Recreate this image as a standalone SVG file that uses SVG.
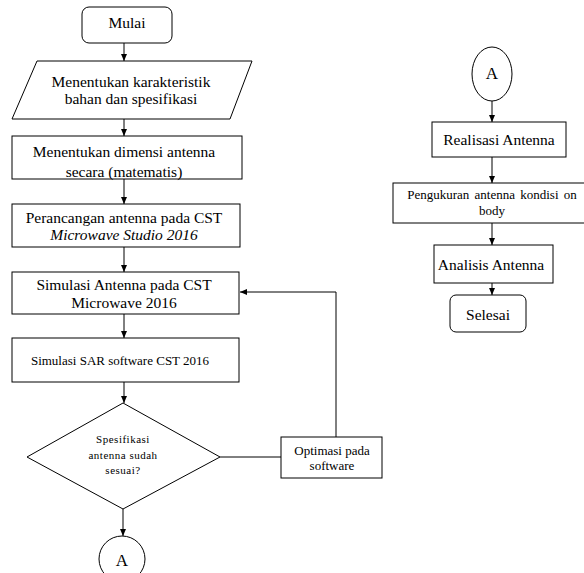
<svg xmlns="http://www.w3.org/2000/svg" width="584" height="573" viewBox="0 0 584 573">
<defs>
<marker id="ah" markerWidth="8" markerHeight="8" refX="7" refY="4" orient="auto" markerUnits="userSpaceOnUse">
<path d="M0,1 L7,4 L0,7 z" fill="#000"/>
</marker>
<style>
.s{fill:#fff;stroke:#000;stroke-width:1}
.c{fill:none;stroke:#000;stroke-width:1}
.t{font-family:"Liberation Serif","Times New Roman",serif;font-size:15.5px;fill:#000;text-anchor:middle}
.sm{font-size:13px}
.xs{font-size:11px;letter-spacing:0.5px}
.it{font-style:italic}
</style>
</defs>
<rect width="584" height="573" fill="#fff"/>
<g id="connectors">
<line class="c" x1="124" y1="43" x2="124" y2="61" marker-end="url(#ah)"/>
<line class="c" x1="124" y1="119" x2="124" y2="136" marker-end="url(#ah)"/>
<line class="c" x1="124" y1="179" x2="124" y2="204" marker-end="url(#ah)"/>
<line class="c" x1="124" y1="247" x2="124" y2="272" marker-end="url(#ah)"/>
<line class="c" x1="124" y1="314" x2="124" y2="338" marker-end="url(#ah)"/>
<line class="c" x1="124" y1="382" x2="124" y2="403" marker-end="url(#ah)"/>
<line class="c" x1="123" y1="509" x2="123" y2="536" marker-end="url(#ah)"/>
<line class="c" x1="220" y1="457" x2="281" y2="457"/>
<polyline class="c" points="336,437 336,292 240,292" marker-end="url(#ah)"/>
<line class="c" x1="492" y1="101" x2="492" y2="122" marker-end="url(#ah)"/>
<line class="c" x1="492" y1="157" x2="492" y2="183" marker-end="url(#ah)"/>
<line class="c" x1="492" y1="223" x2="492" y2="245" marker-end="url(#ah)"/>
<line class="c" x1="492" y1="283" x2="492" y2="295" marker-end="url(#ah)"/>
</g>
<g id="mulai">
<rect class="s" x="82" y="7" width="90" height="36" rx="7"/>
<text class="t" x="127" y="28">Mulai</text>
</g>
<g id="karakteristik">
<polygon class="s" points="37,61 252,61 230,119 12,119"/>
<text class="t" x="131" y="87">Menentukan karakteristik</text>
<text class="t" x="131" y="104">bahan dan spesifikasi</text>
</g>
<g id="dimensi">
<rect class="s" x="12" y="136" width="230" height="43"/>
<text class="t" x="124" y="157">Menentukan dimensi antenna</text>
<text class="t" x="124" y="177">secara (matematis)</text>
</g>
<g id="perancangan">
<rect class="s" x="12" y="204" width="228" height="43"/>
<text class="t" x="124" y="223">Perancangan antenna pada CST</text>
<text class="t it" x="124" y="240">Microwave Studio 2016</text>
</g>
<g id="simulasi">
<rect class="s" x="12" y="272" width="227" height="42"/>
<text class="t" x="124" y="290">Simulasi Antenna pada CST</text>
<text class="t" x="124" y="308">Microwave 2016</text>
</g>
<g id="sar">
<rect class="s" x="12" y="338" width="227" height="44"/>
<text class="t sm" x="120" y="365">Simulasi SAR software CST 2016</text>
</g>
<g id="keputusan">
<polygon class="s" points="123,403 220,457 123,509 27,457"/>
<text class="t xs" x="123" y="443">Spesifikasi</text>
<text class="t xs" x="123" y="459">antenna sudah</text>
<text class="t xs" x="123" y="474">sesuai?</text>
</g>
<g id="optimasi">
<rect class="s" x="281" y="437" width="101" height="41"/>
<text class="t sm" x="332" y="455">Optimasi pada</text>
<text class="t sm" x="332" y="470">software</text>
</g>
<g id="konektorA1">
<circle class="s" cx="122" cy="559" r="23"/>
<text class="t" x="122" y="566" style="font-size:17px">A</text>
</g>
<g id="konektorA2">
<ellipse class="s" cx="492" cy="74" rx="20" ry="27"/>
<text class="t" x="492" y="79" style="font-size:17px">A</text>
</g>
<g id="realisasi">
<rect class="s" x="432" y="122" width="134" height="35"/>
<text class="t" x="499" y="145">Realisasi Antenna</text>
</g>
<g id="pengukuran">
<rect class="s" x="393" y="183" width="200" height="40"/>
<text class="t sm" x="492" y="199" style="word-spacing:2px">Pengukuran antenna kondisi on</text>
<text class="t sm" x="492" y="215">body</text>
</g>
<g id="analisis">
<rect class="s" x="434" y="245" width="119" height="38"/>
<text class="t" x="491" y="270">Analisis Antenna</text>
</g>
<g id="selesai">
<rect class="s" x="450" y="295" width="76" height="37" rx="6"/>
<text class="t" x="488" y="320">Selesai</text>
</g>
</svg>
